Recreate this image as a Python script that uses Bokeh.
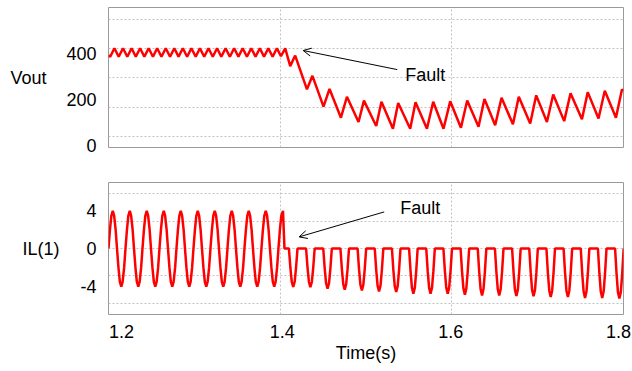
from bokeh.plotting import figure
from bokeh.layouts import column
from bokeh.models import FixedTicker, Arrow, OpenHead, Label, Range1d, Title
from bokeh.embed import file_html
from bokeh.resources import INLINE

# ---------------- data ----------------
# Vout (V): vertices of the ripple / sawtooth waveform
vout_t = [
    1.2000,
    1.2020, 1.2069, 1.2119, 1.2169, 1.2219, 1.2269, 1.2318, 1.2368, 1.2418, 1.2468,
    1.2518, 1.2567, 1.2617, 1.2667, 1.2717, 1.2767, 1.2816, 1.2866, 1.2916, 1.2966,
    1.3016, 1.3065, 1.3115, 1.3165, 1.3215, 1.3265, 1.3314, 1.3364, 1.3414, 1.3464,
    1.3514, 1.3563, 1.3613, 1.3663, 1.3713, 1.3763, 1.3812, 1.3862, 1.3912, 1.3962,
    1.4009, 1.4059, 1.4117, 1.4175, 1.4312, 1.4376, 1.4505, 1.4575, 1.4708, 1.4778,
    1.4913, 1.4976, 1.5119, 1.5180, 1.5314, 1.5375, 1.5515, 1.5577, 1.5710, 1.5783,
    1.5903, 1.5981, 1.6106, 1.6179, 1.6311, 1.6380, 1.6505, 1.6579, 1.6712, 1.6780,
    1.6913, 1.6983, 1.7108, 1.7181, 1.7309, 1.7383, 1.7516, 1.7583, 1.7709, 1.7782,
    1.7912, 1.7982, 1.8000,
]
vout_v = [
    392,
    386, 423, 386, 423, 386, 423, 386, 423, 386, 423,
    386, 423, 386, 423, 386, 423, 386, 423, 386, 423,
    386, 423, 386, 423, 386, 423, 386, 423, 386, 423,
    386, 423, 386, 423, 386, 423, 386, 423, 386, 423,
    388, 422, 345, 391, 244, 303, 169, 246, 121, 212,
    102, 195, 85, 190, 73, 185, 73, 188, 73, 190,
    73, 192, 77, 196, 82, 202, 88, 208, 92, 212,
    96, 218, 102, 222, 106, 227, 114, 232, 117, 238,
    121, 243, 238,
]

# IL(1) (A): sampled inductor current
il_t = [
    1.2000, 1.2017, 1.2033, 1.2050, 1.2066, 1.2083, 1.2099, 1.2116, 1.2132, 1.2149, 1.2165, 1.2182,
    1.2198, 1.2215, 1.2231, 1.2248, 1.2264, 1.2281, 1.2297, 1.2314, 1.2330, 1.2347, 1.2363, 1.2380,
    1.2396, 1.2413, 1.2429, 1.2446, 1.2462, 1.2479, 1.2495, 1.2512, 1.2528, 1.2545, 1.2561, 1.2578,
    1.2594, 1.2611, 1.2627, 1.2644, 1.2660, 1.2677, 1.2693, 1.2710, 1.2726, 1.2743, 1.2759, 1.2776,
    1.2792, 1.2809, 1.2825, 1.2842, 1.2858, 1.2875, 1.2891, 1.2908, 1.2924, 1.2941, 1.2957, 1.2974,
    1.2990, 1.3007, 1.3023, 1.3040, 1.3056, 1.3073, 1.3089, 1.3106, 1.3122, 1.3139, 1.3155, 1.3172,
    1.3188, 1.3205, 1.3221, 1.3238, 1.3254, 1.3271, 1.3287, 1.3304, 1.3320, 1.3337, 1.3353, 1.3370,
    1.3386, 1.3403, 1.3419, 1.3436, 1.3452, 1.3469, 1.3485, 1.3502, 1.3518, 1.3535, 1.3551, 1.3568,
    1.3584, 1.3601, 1.3617, 1.3634, 1.3650, 1.3667, 1.3683, 1.3700, 1.3716, 1.3733, 1.3749, 1.3766,
    1.3782, 1.3799, 1.3815, 1.3832, 1.3848, 1.3865, 1.3881, 1.3898, 1.3914, 1.3931, 1.3947, 1.3964,
    1.3980, 1.3997, 1.4013, 1.4033, 1.4050,
    1.4102, 1.4119, 1.4135, 1.4152, 1.4169, 1.4185, 1.4202,
    1.4302, 1.4319, 1.4335, 1.4352, 1.4369, 1.4385, 1.4402,
    1.4502, 1.4519, 1.4535, 1.4552, 1.4569, 1.4585, 1.4602,
    1.4702, 1.4719, 1.4735, 1.4752, 1.4769, 1.4785, 1.4802,
    1.4902, 1.4919, 1.4935, 1.4952, 1.4969, 1.4985, 1.5002,
    1.5102, 1.5119, 1.5135, 1.5152, 1.5169, 1.5185, 1.5202,
    1.5302, 1.5319, 1.5335, 1.5352, 1.5369, 1.5385, 1.5402,
    1.5502, 1.5519, 1.5535, 1.5552, 1.5569, 1.5585, 1.5602,
    1.5702, 1.5719, 1.5735, 1.5752, 1.5769, 1.5785, 1.5802,
    1.5902, 1.5919, 1.5935, 1.5952, 1.5969, 1.5985, 1.6002,
    1.6102, 1.6119, 1.6135, 1.6152, 1.6169, 1.6185, 1.6202,
    1.6302, 1.6319, 1.6335, 1.6352, 1.6369, 1.6385, 1.6402,
    1.6502, 1.6519, 1.6535, 1.6552, 1.6569, 1.6585, 1.6602,
    1.6702, 1.6719, 1.6735, 1.6752, 1.6769, 1.6785, 1.6802,
    1.6902, 1.6919, 1.6935, 1.6952, 1.6969, 1.6985, 1.7002,
    1.7102, 1.7119, 1.7135, 1.7152, 1.7169, 1.7185, 1.7202,
    1.7302, 1.7319, 1.7335, 1.7352, 1.7369, 1.7385, 1.7402,
    1.7502, 1.7519, 1.7535, 1.7552, 1.7569, 1.7585, 1.7602,
    1.7702, 1.7719, 1.7735, 1.7752, 1.7769, 1.7785, 1.7802,
    1.7902, 1.7919, 1.7935, 1.7952, 1.7969, 1.7985, 1.8002,
]
il_v = [
    0, 2.0, 3.46, 4.0, 3.46, 2.0, 0, -2.03, -3.51, -4.05, -3.51, -2.03,
    0, 2.0, 3.46, 4.0, 3.46, 2.0, 0, -2.03, -3.51, -4.05, -3.51, -2.03,
    0, 2.0, 3.46, 4.0, 3.46, 2.0, 0, -2.03, -3.51, -4.05, -3.51, -2.03,
    0, 2.0, 3.46, 4.0, 3.46, 2.0, 0, -2.03, -3.51, -4.05, -3.51, -2.03,
    0, 2.0, 3.46, 4.0, 3.46, 2.0, 0, -2.03, -3.51, -4.05, -3.51, -2.03,
    0, 2.0, 3.46, 4.0, 3.46, 2.0, 0, -2.03, -3.51, -4.05, -3.51, -2.03,
    0, 2.0, 3.46, 4.0, 3.46, 2.0, 0, -2.03, -3.51, -4.05, -3.51, -2.03,
    0, 2.0, 3.46, 4.0, 3.46, 2.0, 0, -2.03, -3.51, -4.05, -3.51, -2.03,
    0, 2.0, 3.46, 4.0, 3.46, 2.0, 0, -2.03, -3.51, -4.05, -3.51, -2.03,
    0, 2.0, 3.46, 4.0, 3.46, 2.0, 0, -2.03, -3.51, -4.05, -3.51, -2.03,
    0, 2.0, 3.46, 4.0, 0,
    0, -2.04, -3.53, -4.08, -3.53, -2.04, 0,
    0, -2.05, -3.55, -4.10, -3.55, -2.05, 0,
    0, -2.13, -3.69, -4.26, -3.69, -2.13, 0,
    0, -2.19, -3.78, -4.37, -3.78, -2.19, 0,
    0, -2.22, -3.85, -4.44, -3.85, -2.22, 0,
    0, -2.28, -3.94, -4.55, -3.94, -2.28, 0,
    0, -2.31, -3.99, -4.61, -3.99, -2.31, 0,
    0, -2.40, -4.15, -4.79, -4.15, -2.40, 0,
    0, -2.40, -4.15, -4.79, -4.15, -2.40, 0,
    0, -2.40, -4.15, -4.79, -4.15, -2.40, 0,
    0, -2.45, -4.23, -4.89, -4.23, -2.45, 0,
    0, -2.49, -4.30, -4.97, -4.30, -2.49, 0,
    0, -2.49, -4.30, -4.97, -4.30, -2.49, 0,
    0, -2.52, -4.36, -5.03, -4.36, -2.52, 0,
    0, -2.54, -4.39, -5.07, -4.39, -2.54, 0,
    0, -2.57, -4.45, -5.14, -4.45, -2.57, 0,
    0, -2.57, -4.45, -5.14, -4.45, -2.57, 0,
    0, -2.62, -4.54, -5.24, -4.54, -2.62, 0,
    0, -2.62, -4.54, -5.24, -4.54, -2.62, 0,
    0, -2.66, -4.60, -5.31, -4.60, -2.66, 0,
]

x_ticks = [1.2, 1.4, 1.6, 1.8]
x_tick_labels = ["1.2", "1.4", "1.6", "1.8"]
vout_ticks = [0, 200, 400]
il_ticks = [-4, 0, 4]
il_tick_labels = ["-4", "0", "4"]
x_label = "Time(s)"
vout_label = "Vout"
il_label = "IL(1)"
fault_text = "Fault"

# annotation anchor points (data coords)
vout_arrow = dict(x_start=1.5364, y_start=330, x_end=1.4268, y_end=413)
vout_fault_xy = (1.5457, 306)
il_arrow = dict(x_start=1.5212, y_start=3.88, x_end=1.4221, y_end=1.23)
il_fault_xy = (1.5399, 4.25)

# ---------------- styling ----------------
FONT = "Liberation Sans"
FS = "18px"
RED = "#ff0000"
GRID = "#c2c2c2"
FRAME = "#9a9a9a"
W = 632
LEFT, RIGHT = 108, 9
PX = 0.6 / (W - LEFT - RIGHT)          # time units per screen pixel
# the original software nudges its edge time labels inwards (pixels)
x_label_nudge = [13, 2, -1, -5]

x_range = Range1d(1.2, 1.8)


def base_fig(height, yr, border_top, border_bottom):
    p = figure(width=W, height=height, x_range=x_range, y_range=yr,
               output_backend="svg", toolbar_location=None,
               min_border_left=LEFT, min_border_right=RIGHT,
               min_border_top=border_top, min_border_bottom=border_bottom)
    p.background_fill_color = "white"
    p.border_fill_color = "white"
    p.outline_line_color = FRAME
    p.outline_line_width = 1
    p.xgrid.ticker = FixedTicker(ticks=x_ticks)
    p.xgrid.grid_line_color = GRID
    p.xgrid.grid_line_dash = "2 2"
    p.xgrid.grid_line_width = 1
    p.ygrid.grid_line_color = GRID
    p.ygrid.grid_line_dash = "2 2"
    p.ygrid.grid_line_width = 1
    return p


def style_axis_common(ax):
    ax.axis_line_color = None
    ax.major_tick_line_color = None
    ax.minor_tick_line_color = None
    ax.major_tick_out = 0
    ax.major_tick_in = 0
    ax.major_label_text_font = FONT
    ax.major_label_text_font_size = FS
    ax.major_label_text_color = "black"
    ax.axis_label_text_font = FONT
    ax.axis_label_text_font_size = FS
    ax.axis_label_text_font_style = "normal"
    ax.axis_label_text_color = "black"


def style_yaxis(p, ticks, labels, label, standoff):
    ax = p.yaxis[0]
    style_axis_common(ax)
    ax.ticker = FixedTicker(ticks=ticks)
    ax.major_label_overrides = dict(zip(ticks, labels))
    ax.major_label_standoff = 12
    ax.axis_label = label
    ax.axis_label_orientation = "horizontal"
    ax.axis_label_standoff = standoff
    return ax


def add_fault(p, arrow_kw, text_xy):
    p.add_layout(Arrow(end=OpenHead(size=8, line_width=1, line_color="black"),
                       line_width=1, line_color="black", **arrow_kw))
    p.add_layout(Label(x=text_xy[0], y=text_xy[1], text=fault_text,
                       text_font=FONT, text_font_size=FS, text_color="black",
                       text_align="left", text_baseline="middle"))


# top: Vout
p1 = base_fig(165, Range1d(-8.7, 600), 7, 18)
p1.xaxis.visible = False
p1.ygrid.ticker = FixedTicker(ticks=[39, 166, 294, 421, 547])
style_yaxis(p1, vout_ticks, [str(v) for v in vout_ticks], vout_label, 17)
p1.line(vout_t, vout_v, line_color=RED, line_width=2.5)
add_fault(p1, vout_arrow, vout_fault_xy)

# bottom: IL(1)
p2 = base_fig(206, Range1d(-7, 7), 17, 57)
p2.ygrid.ticker = FixedTicker(ticks=[-5.85, -2.9, 0, 2.9, 5.85])
style_yaxis(p2, il_ticks, il_tick_labels, il_label, 18)
p2.line(il_t, il_v, line_color=RED, line_width=2.5)
add_fault(p2, il_arrow, il_fault_xy)

xa = p2.xaxis[0]
style_axis_common(xa)
label_pos = [t + n * PX for t, n in zip(x_ticks, x_label_nudge)]
xa.ticker = FixedTicker(ticks=label_pos)
xa.major_label_overrides = dict(zip(label_pos, x_tick_labels))
xa.major_label_standoff = 10

p2.add_layout(Title(text=x_label, align="center", offset=-30, standoff=0,
                    text_font=FONT, text_font_size=FS, text_font_style="normal",
                    text_color="black"), "below")

layout = column(p1, p2, spacing=0)
open("out.html", "w").write(file_html(layout, INLINE))
